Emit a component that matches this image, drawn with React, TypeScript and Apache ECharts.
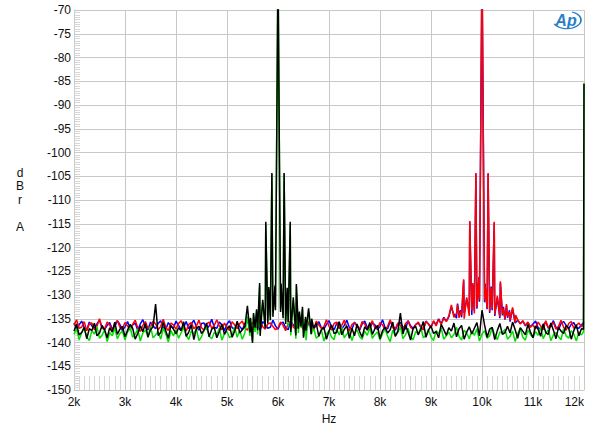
import React, { useEffect, useRef } from "react";
import * as echarts from "echarts";

// Sample grid of the noise floor traces (Hz)
const FREQ_START = 2000;
const FREQ_STEP = 50;

const xTickLabels = ["2k", "3k", "4k", "5k", "6k", "7k", "8k", "9k", "10k", "11k", "12k"];

// Noise floor readings (dBr), one per 50 Hz from 2 kHz to 12 kHz
const blackNoise = [
  -137.6, -136.1, -138.4, -137.9, -136.8, -139.2, -137.1, -137.5, -135.9, -138.6, -138.0, -136.4, -137.3, -139.0, -136.9, -137.8, -135.7, -138.3, -137.2, -136.6,
  -138.8, -137.4, -136.2, -137.0, -139.3, -138.1, -136.5, -137.7, -136.0, -138.9, -137.3, -136.7, -137.0, -138.5, -137.9, -135.8, -137.6, -139.1, -136.4, -137.2,
  -138.2, -136.9, -137.5, -135.6, -138.7, -137.8, -136.3, -139.4, -137.0, -136.6, -138.1, -137.4, -135.9, -138.8, -137.2, -136.8, -139.0, -137.7, -136.1, -138.3,
  -137.1, -136.5, -138.9, -137.6, -135.5, -138.0, -137.3, -136.7, -139.2, -137.9, -140.1, -136.9, -137.4, -138.6, -135.8, -137.0, -136.0, -135.3, -134.6, -133.2,
  -133.0, -133.6, -134.9, -136.1, -135.7, -137.8, -136.4, -138.5, -137.1, -136.6, -139.0, -137.5, -136.2, -138.2, -137.0, -135.9, -138.7, -137.3, -136.8, -139.3,
  -137.6, -136.3, -138.1, -137.9, -135.6, -138.4, -137.2, -136.5, -139.1, -137.0, -138.6, -136.1, -137.7, -138.9, -136.7, -137.4, -135.8, -138.3, -137.1, -136.4,
  -139.2, -137.5, -136.8, -138.0, -137.3, -135.7, -138.7, -137.6, -136.9, -138.2, -136.3, -137.8, -139.5, -137.0, -136.6, -138.4, -137.2, -135.6, -138.9, -137.4,
  -136.5, -138.1, -137.7, -139.0, -136.2, -137.3, -138.5, -136.9, -137.6, -135.9, -138.8, -137.1, -136.4, -139.3, -137.8, -136.7, -138.2, -137.0, -135.8, -138.6,
  -137.4, -136.3, -138.9, -137.2, -136.8, -139.4, -137.5, -136.0, -138.3, -137.9, -136.6, -138.0, -135.7, -137.3, -139.1, -136.9, -137.6, -138.4, -136.2, -137.8,
  -139.0, -136.5, -137.2, -138.7, -136.1, -137.9, -138.3, -135.9, -137.4, -139.2, -136.8, -137.6, -138.1, -136.4, -137.0, -139.3, -137.5, -136.3, -138.6, -137.1,
  -137.4,
];

const greenNoise = [
  -138.3, -137.1, -139.4, -138.0, -136.9, -138.8, -139.6, -137.5, -138.2, -136.7, -139.1, -138.5, -137.3, -139.8, -137.9, -138.6, -137.0, -139.2, -138.1, -137.6,
  -139.5, -137.8, -136.8, -138.9, -138.3, -137.2, -139.7, -138.0, -137.4, -138.7, -136.6, -139.0, -138.4, -137.7, -139.3, -137.0, -138.2, -139.9, -137.5, -138.6,
  -137.3, -139.1, -138.0, -136.9, -138.5, -139.4, -137.6, -138.2, -137.1, -139.6, -138.8, -137.4, -136.8, -138.7, -139.2, -137.9, -138.3, -137.0, -139.5, -138.1,
  -137.7, -139.0, -138.4, -136.7, -138.9, -137.5, -139.3, -138.0, -137.2, -138.6, -139.8, -137.8, -138.3, -136.9, -138.1, -137.0, -135.5, -134.4, -133.6, -132.5,
  -132.4, -132.9, -134.2, -135.4, -136.8, -138.5, -137.4, -139.2, -138.0, -136.9, -138.7, -139.5, -137.6, -138.3, -137.0, -139.1, -138.6, -137.3, -139.7, -138.2,
  -137.5, -138.9, -139.4, -137.1, -138.4, -136.8, -139.0, -138.2, -137.7, -139.6, -138.0, -137.3, -138.8, -139.3, -137.6, -138.5, -136.9, -139.1, -138.3, -137.8,
  -139.5, -138.1, -137.2, -138.7, -139.8, -137.4, -138.6, -137.9, -136.7, -139.2, -138.4, -137.0, -138.9, -139.4, -137.7, -138.2, -136.9, -139.0, -138.5, -137.3,
  -138.8, -139.6, -137.5, -138.1, -137.0, -139.3, -138.6, -137.8, -139.0, -138.3, -136.8, -138.7, -139.5, -137.4, -138.0, -139.2, -137.6, -138.5, -137.1, -139.7,
  -138.2, -137.5, -139.1, -138.6, -136.9, -138.4, -139.4, -137.8, -138.0, -137.2, -139.3, -138.7, -137.6, -139.8, -138.1, -137.0, -138.9, -139.5, -137.4, -138.3,
  -139.0, -137.7, -138.5, -136.8, -139.2, -138.1, -137.3, -139.6, -138.4, -137.9, -138.8, -139.4, -137.1, -138.6, -139.1, -137.5, -138.2, -139.7, -137.8, -138.4,
  -138.0,
];

const redNoise = [
  -136.4, -135.2, -137.0, -136.8, -135.6, -137.5, -136.1, -135.9, -137.3, -136.6, -135.0, -136.9, -137.2, -135.7, -136.3, -137.6, -136.0, -135.4, -136.8, -137.1,
  -135.8, -136.5, -137.4, -136.2, -135.3, -136.9, -137.7, -136.4, -135.6, -137.0, -136.7, -135.5, -136.1, -137.3, -136.6, -135.1, -136.8, -137.5, -135.9, -136.3,
  -137.2, -136.0, -135.4, -136.7, -137.6, -136.2, -135.8, -137.1, -136.5, -135.3, -136.9, -137.4, -136.1, -135.7, -137.0, -136.4, -135.2, -136.6, -137.3, -135.9,
  -136.8, -137.5, -135.6, -136.3, -137.1, -136.0, -135.5, -136.9, -137.4, -136.2, -135.8, -137.0, -136.5, -135.3, -136.7, -137.2, -136.1, -135.9, -136.6, -137.3,
  -136.9, -135.7, -136.4, -137.5, -136.0, -135.4, -136.8, -137.1, -135.8, -136.5, -137.3, -136.2, -135.6, -136.9, -137.4, -135.5, -136.3, -137.0, -136.7, -135.2,
  -136.6, -137.4, -136.0, -135.7, -137.1, -136.4, -135.3, -136.8, -137.5, -136.2, -135.9, -136.5, -137.2, -135.6, -136.1, -137.3, -136.7, -135.4, -136.9, -137.0,
  -135.8, -136.3, -137.4, -136.6, -135.2, -136.9, -137.1, -135.9, -136.4, -137.5, -136.0, -135.5, -136.8, -137.2, -136.3, -135.7, -136.6, -137.3, -135.6, -136.1,
  -136.9, -135.4, -136.5, -135.1, -136.2, -134.9, -135.6, -134.4, -135.3, -134.7, -133.9, -134.8, -134.2, -135.0, -133.6, -134.4, -133.2, -133.9, -132.6, -131.0,
  -131.5, -131.2, -132.8, -133.5, -132.9, -134.1, -133.4, -134.6, -134.0, -135.1, -134.5, -135.3, -134.9, -135.8, -135.2, -136.1, -135.4, -136.4, -135.7, -136.8,
  -136.3, -137.1, -135.7, -136.5, -137.3, -135.4, -136.9, -136.2, -135.8, -137.2, -136.6, -135.3, -136.8, -137.4, -136.0, -135.6, -137.0, -136.4, -135.9, -136.7,
  -136.2,
];

const blueNoise = [
  -135.9, -137.1, -136.3, -135.5, -136.8, -137.4, -135.7, -136.5, -137.0, -136.1, -135.3, -136.9, -137.3, -136.4, -135.8, -137.2, -136.6, -135.4, -136.2, -137.5,
  -136.7, -135.6, -137.0, -136.3, -135.9, -137.4, -136.1, -135.2, -136.8, -137.3, -135.7, -136.5, -137.1, -136.0, -135.4, -136.9, -137.2, -135.8, -136.6, -137.0,
  -135.5, -136.4, -137.3, -136.8, -135.6, -137.1, -136.2, -135.3, -136.7, -137.4, -136.0, -135.9, -137.2, -136.5, -135.1, -136.8, -137.0, -135.7, -136.3, -137.5,
  -136.1, -135.4, -136.9, -137.2, -135.8, -136.6, -137.3, -136.0, -135.5, -136.7, -137.1, -135.9, -136.4, -137.4, -135.6, -136.2, -137.0, -136.8, -135.3, -136.5,
  -137.2, -136.0, -135.7, -136.9, -137.3, -135.5, -136.3, -137.1, -136.6, -135.2, -136.8, -137.4, -135.9, -136.1, -137.0, -136.5, -135.6, -136.9, -137.2, -136.2,
  -135.4, -136.7, -137.3, -136.0, -135.8, -137.1, -136.4, -135.3, -136.9, -137.2, -135.7, -136.5, -137.4, -136.1, -135.5, -136.8, -137.0, -135.9, -136.3, -137.3,
  -136.6, -135.2, -136.9, -137.1, -135.6, -136.4, -137.4, -136.0, -135.8, -136.7, -137.2, -135.4, -136.5, -137.0, -136.2, -135.9, -136.8, -137.3, -135.5, -136.1,
  -136.8, -135.6, -136.2, -135.0, -136.1, -134.7, -135.5, -134.6, -135.1, -134.3, -134.9, -134.1, -134.7, -133.8, -134.5, -133.5, -134.2, -133.3, -132.9, -131.4,
  -131.8, -131.5, -133.0, -133.8, -133.2, -134.4, -133.7, -134.9, -134.3, -135.2, -134.8, -135.6, -135.0, -135.9, -135.3, -136.0, -135.5, -136.5, -135.8, -136.7,
  -136.1, -135.5, -136.9, -137.2, -136.3, -135.7, -137.0, -136.6, -135.4, -136.8, -137.3, -136.0, -135.6, -136.4, -137.1, -136.2, -135.8, -136.9, -137.0, -136.3,
  -135.7,
];

// Discrete tones and sidebands: [Hz, dBr]
const blackPeaks: [number, number][] = [
  [3600, -131.9], [5400, -132.3], [5460, -134.8], [5520, -133.8], [5580, -133.0], [5640, -127.5],
  [5700, -131.0], [5760, -114.6], [5820, -128.3], [5880, -104.3], [5940, -128.0], [6000, -60],
  [6060, -127.6], [6120, -104.3], [6180, -128.5], [6240, -114.6], [6300, -130.5], [6360, -127.7],
  [6420, -133.5], [6480, -132.5], [6540, -134.6], [6600, -132.8], [6660, -135.0],
  [8400, -133.8], [10000, -133.2], [11990, -137.2], [12000, -85.5],
];

const greenPeaks: [number, number][] = [
  [5400, -134.5], [5460, -135.0], [5520, -134.2], [5580, -133.5], [5640, -128.0], [5700, -131.5],
  [5760, -115.0], [5820, -128.8], [5880, -104.6], [5940, -129.0], [6000, -60], [6060, -128.5],
  [6120, -104.6], [6180, -129.3], [6240, -115.0], [6300, -131.2], [6360, -128.2], [6420, -134.0],
  [6480, -133.0], [6540, -135.0], [6600, -133.5], [11990, -137.8], [12000, -85.5],
];

const redPeaks: [number, number][] = [
  [9400, -132.1], [9460, -134.5], [9520, -132.0], [9580, -133.5], [9640, -126.7], [9700, -130.5],
  [9760, -114.4], [9820, -127.5], [9880, -104.3], [9940, -126.5], [10000, -60], [10060, -128.0],
  [10120, -104.3], [10180, -128.5], [10240, -114.6], [10300, -130.2], [10360, -127.1], [10420, -132.8],
  [10480, -131.9], [10540, -133.6], [10600, -132.6], [10660, -134.2],
];

const bluePeaks: [number, number][] = [
  [9400, -132.5], [9460, -134.0], [9520, -131.8], [9580, -133.2], [9640, -126.9], [9700, -130.8],
  [9760, -114.6], [9820, -127.8], [9880, -104.5], [9940, -126.2], [10000, -60], [10060, -127.6],
  [10120, -104.5], [10180, -128.2], [10240, -114.8], [10300, -130.5], [10360, -127.4], [10420, -132.5],
  [10480, -132.3], [10540, -133.2], [10600, -132.9],
];

function buildTrace(noise: number[], peaks: [number, number][]): number[][] {
  const pts = noise
    .map((v, i) => [FREQ_START + FREQ_STEP * i, v])
    .filter((p) => !peaks.some((q) => Math.abs(q[0] - p[0]) < 10));
  return pts.concat(peaks.map((p) => [p[0], p[1]])).sort((a, b) => a[0] - b[0]);
}

const FONT = "Liberation Sans, Arial, Helvetica, sans-serif";
const GRID_COLOR = "#c8c8c8";
const MINOR_COLOR = "#d6d6d6";
const TEXT_COLOR = "#111";
const AP_BLUE = "#2a7fc4";

export default function App() {
  const ref = useRef<HTMLDivElement>(null);

  useEffect(() => {
    if (!ref.current) return;
    const chart = echarts.init(ref.current, undefined, { renderer: "svg" });
    const line = (name: string, color: string, data: number[][]) => ({
      name,
      type: "line",
      data,
      showSymbol: false,
      symbol: "none",
      clip: true,
      lineStyle: { color, width: 1.5 },
      itemStyle: { color },
      emphasis: { disabled: true },
    });
    chart.setOption({
      animation: false,
      backgroundColor: "#ffffff",
      grid: { left: 74, right: 16, top: 10, bottom: 42, containLabel: false },
      xAxis: {
        type: "value",
        min: 2000,
        max: 12000,
        interval: 1000,
        name: "Hz",
        nameLocation: "middle",
        nameGap: 16,
        nameTextStyle: { color: TEXT_COLOR, fontSize: 12, fontFamily: FONT },
        axisLine: { show: true, lineStyle: { color: GRID_COLOR, width: 1 } },
        axisTick: { show: false, inside: true },
        minorTick: { show: true, splitNumber: 10, length: 14, lineStyle: { color: MINOR_COLOR, width: 1 } },
        axisLabel: {
          formatter: (v: number) => xTickLabels[Math.round((v - 2000) / 1000)] ?? "",
          color: TEXT_COLOR,
          fontSize: 12,
          fontFamily: FONT,
          margin: 6,
          alignMaxLabel: "right",
        },
        splitLine: { show: true, lineStyle: { color: GRID_COLOR, width: 1 } },
      },
      yAxis: {
        type: "value",
        min: -150,
        max: -70,
        interval: 5,
        axisLine: { show: true, lineStyle: { color: GRID_COLOR, width: 1 } },
        axisTick: { show: false, inside: true },
        minorTick: { show: true, splitNumber: 10, length: 6, lineStyle: { color: MINOR_COLOR, width: 1 } },
        axisLabel: { color: TEXT_COLOR, fontSize: 12, fontFamily: FONT, margin: 3 },
        splitLine: { show: true, lineStyle: { color: GRID_COLOR, width: 1 } },
      },
      series: [
        line("Blue", "#0000ff", buildTrace(blueNoise, bluePeaks)),
        line("Red", "#ff0000", buildTrace(redNoise, redPeaks)),
        line("Green", "#00e000", buildTrace(greenNoise, greenPeaks)),
        line("Black", "#000000", buildTrace(blackNoise, blackPeaks)),
      ],
      graphic: [
        {
          type: "text",
          x: 20,
          y: 166,
          style: {
            text: "d\nB\nr\n\nA",
            fill: TEXT_COLOR,
            font: `12px ${FONT}`,
            lineHeight: 13.5,
            align: "center",
            verticalAlign: "top",
          },
        },
        {
          type: "group",
          x: 567,
          y: 20,
          children: [
            {
              type: "group",
              scaleY: 0.62,
              children: [
                {
                  type: "arc",
                  shape: { cx: 0, cy: 0, r: 14, startAngle: -1.2, endAngle: 2.7, clockwise: true },
                  style: { stroke: AP_BLUE, lineWidth: 1.8, fill: null },
                },
              ],
            },
            {
              type: "text",
              x: -1,
              y: 0,
              style: {
                text: "Ap",
                fill: AP_BLUE,
                font: `italic bold 16px ${FONT}`,
                align: "center",
                verticalAlign: "middle",
              },
            },
          ],
        },
      ],
    });
    return () => chart.dispose();
  }, []);

  return (
    <div
      ref={ref}
      style={{ position: "absolute", left: 0, top: 0, width: 600, height: 432 }}
    />
  );
}
